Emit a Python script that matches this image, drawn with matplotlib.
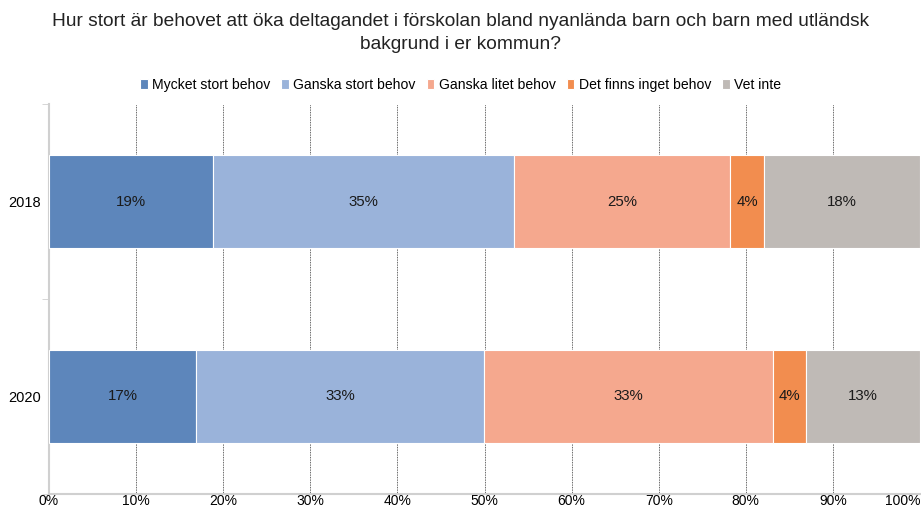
import numpy as np
import matplotlib.pyplot as plt

plt.rcParams['font.family'] = ['Liberation Sans', 'DejaVu Sans']

years = ["2018", "2020"]
categories = ["Mycket stort behov", "Ganska stort behov", "Ganska litet behov",
              "Det finns inget behov", "Vet inte"]
# andel i procent per kategori, ett värde per år
mycket_stort = [18.8, 16.9]
ganska_stort = [34.6, 33.0]
ganska_litet = [24.8, 33.2]
inget_behov = [3.9, 3.8]
vet_inte = [17.9, 13.1]
series = [mycket_stort, ganska_stort, ganska_litet, inget_behov, vet_inte]
colors = ["#5D86BB", "#9AB3DA", "#F5A88E", "#F28D4F", "#BFBAB6"]

title = ("Hur stort är behovet att öka deltagandet i förskolan bland nyanlända barn och barn med utländsk\n"
         "bakgrund i er kommun?")

fig = plt.figure(figsize=(9.21, 5.08), dpi=100)
ax = fig.add_axes([49 / 921, 14 / 508, 871 / 921, 390 / 508])

y = np.arange(len(years))
left = np.zeros(len(years))
for name, vals, c in zip(categories, series, colors):
    vals = np.array(vals)
    ax.barh(y, vals, left=left, height=0.48, color=c, edgecolor="white",
            linewidth=0.8, label=name, zorder=3)
    for yi, l, v in zip(y, left, vals):
        ax.text(l + v / 2, yi, f"{round(v):.0f}%", ha="center", va="center",
                fontsize=10.8, color="#1a1a1a", zorder=4)
    left += vals

ax.set_xlim(0, 100)
ax.set_ylim(1.5, -0.5)
ax.set_xticks(np.arange(0, 101, 10))
ax.set_xticklabels([f"{t}%" for t in range(0, 101, 10)], fontsize=10)
ax.get_xticklabels()[-1].set_horizontalalignment("right")
ax.set_yticks(y)
ax.set_yticklabels(years, fontsize=10.5)
ax.set_yticks([-0.5, 0.5, 1.5], minor=True)
ax.tick_params(axis="y", which="major", length=0, pad=6)
ax.tick_params(axis="y", which="minor", length=5, color="#d0d0d0")
ax.tick_params(axis="x", length=0, pad=0.3)

ax.grid(axis="x", color="#333333", linestyle=(0, (1, 1)), linewidth=0.6, zorder=0)
for s in ["top", "right"]:
    ax.spines[s].set_visible(False)
ax.spines["left"].set_color("#d0d0d0")
ax.spines["bottom"].set_color("#d0d0d0")
ax.spines["left"].set_linewidth(1.5)
ax.spines["bottom"].set_linewidth(1.5)

fig.text(0.5, 0.975, title, ha="center", va="top", fontsize=13.8, color="#222222",
         linespacing=1.5)
fig.legend(loc="center", bbox_to_anchor=(0.5, 1 - 85 / 508), ncol=5, frameon=False,
           fontsize=10.1, handlelength=0.55, handleheight=0.8, handletextpad=0.3,
           columnspacing=0.8)

fig.savefig("out.png", dpi=100)
